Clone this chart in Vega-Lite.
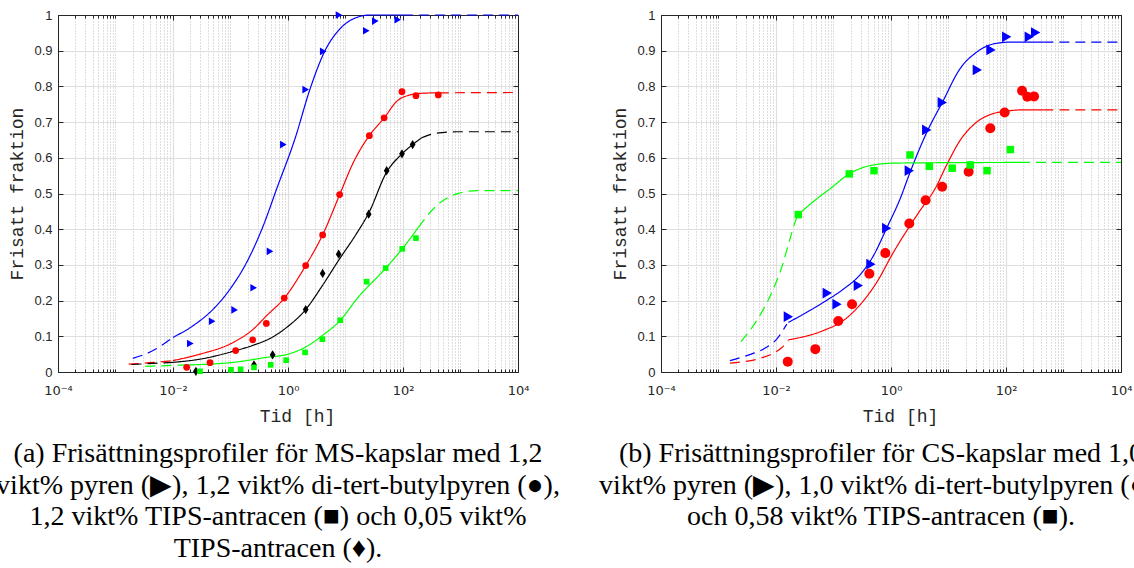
{
  "$schema": "https://vega.github.io/schema/vega-lite/v6.json",
  "background": "white",
  "padding": {"left": -4, "top": 9, "right": -11, "bottom": 0},
  "autosize": {"type": "pad"},
  "spacing": 143,
  "bounds": "flush",
  "resolve": {"scale": {"size": "independent"}},
  "config": {
    "view": {"stroke": null},
    "axis": {
      "labelFont": "Liberation Sans", "labelFontSize": 13, "labelColor": "#262626",
      "tickColor": "#262626", "domainColor": "#262626", "domainWidth": 1, "tickWidth": 1,
      "titleFont": "Liberation Mono", "titleFontSize": 18, "titleFontWeight": "normal", "titleColor": "#262626",
      "gridColor": "#dfdfdf", "gridWidth": 1.2
    }
  },
  "datasets": {
    "aLines": [
      {"s":"pyren","part":"pa1","seg":"dashed","t":0.002,"f":0.038},
      {"s":"pyren","part":"pa1","seg":"dashed","t":0.0045,"f":0.06},
      {"s":"pyren","part":"pa1","seg":"dashed","t":0.01,"f":0.097},
      {"s":"pyren","part":"pa2","seg":"solid","t":0.01,"f":0.097},
      {"s":"pyren","part":"pa2","seg":"solid","t":0.0225,"f":0.13},
      {"s":"pyren","part":"pa2","seg":"solid","t":0.05,"f":0.176},
      {"s":"pyren","part":"pa2","seg":"solid","t":0.098,"f":0.232},
      {"s":"pyren","part":"pa2","seg":"solid","t":0.191,"f":0.307},
      {"s":"pyren","part":"pa2","seg":"solid","t":0.372,"f":0.41},
      {"s":"pyren","part":"pa2","seg":"solid","t":0.635,"f":0.513},
      {"s":"pyren","part":"pa2","seg":"solid","t":1.32,"f":0.653},
      {"s":"pyren","part":"pa2","seg":"solid","t":2.42,"f":0.793},
      {"s":"pyren","part":"pa2","seg":"solid","t":4.4,"f":0.9},
      {"s":"pyren","part":"pa2","seg":"solid","t":8,"f":0.961},
      {"s":"pyren","part":"pa2","seg":"solid","t":15.6,"f":0.993},
      {"s":"pyren","part":"pa2","seg":"solid","t":27,"f":1},
      {"s":"pyren","part":"pa2","seg":"solid","t":100,"f":1},
      {"s":"pyren","part":"pa3","seg":"dashed","t":100,"f":1},
      {"s":"pyren","part":"pa3","seg":"dashed","t":10000,"f":1},
      {"s":"dtbp","part":"ra1","seg":"dashed","t":0.0017,"f":0.022},
      {"s":"dtbp","part":"ra1","seg":"dashed","t":0.004,"f":0.026},
      {"s":"dtbp","part":"ra1","seg":"dashed","t":0.01,"f":0.032},
      {"s":"dtbp","part":"ra2","seg":"solid","t":0.01,"f":0.032},
      {"s":"dtbp","part":"ra2","seg":"solid","t":0.0295,"f":0.05},
      {"s":"dtbp","part":"ra2","seg":"solid","t":0.112,"f":0.083},
      {"s":"dtbp","part":"ra2","seg":"solid","t":0.249,"f":0.12},
      {"s":"dtbp","part":"ra2","seg":"solid","t":0.426,"f":0.158},
      {"s":"dtbp","part":"ra2","seg":"solid","t":0.863,"f":0.207},
      {"s":"dtbp","part":"ra2","seg":"solid","t":2.03,"f":0.298},
      {"s":"dtbp","part":"ra2","seg":"solid","t":4,"f":0.384},
      {"s":"dtbp","part":"ra2","seg":"solid","t":7.93,"f":0.497},
      {"s":"dtbp","part":"ra2","seg":"solid","t":13.7,"f":0.587},
      {"s":"dtbp","part":"ra2","seg":"solid","t":25.9,"f":0.662},
      {"s":"dtbp","part":"ra2","seg":"solid","t":47.3,"f":0.712},
      {"s":"dtbp","part":"ra2","seg":"solid","t":77.6,"f":0.758},
      {"s":"dtbp","part":"ra2","seg":"solid","t":132,"f":0.776},
      {"s":"dtbp","part":"ra2","seg":"solid","t":225,"f":0.781},
      {"s":"dtbp","part":"ra2","seg":"solid","t":420,"f":0.782},
      {"s":"dtbp","part":"ra3","seg":"dashed","t":420,"f":0.782},
      {"s":"dtbp","part":"ra3","seg":"dashed","t":10000,"f":0.783},
      {"s":"tips005","part":"ka1","seg":"dashed","t":0.0019,"f":0.021},
      {"s":"tips005","part":"ka1","seg":"dashed","t":0.01,"f":0.027},
      {"s":"tips005","part":"ka2","seg":"solid","t":0.01,"f":0.027},
      {"s":"tips005","part":"ka2","seg":"solid","t":0.0295,"f":0.036},
      {"s":"tips005","part":"ka2","seg":"solid","t":0.112,"f":0.058},
      {"s":"tips005","part":"ka2","seg":"solid","t":0.249,"f":0.075},
      {"s":"tips005","part":"ka2","seg":"solid","t":0.486,"f":0.094},
      {"s":"tips005","part":"ka2","seg":"solid","t":0.95,"f":0.125},
      {"s":"tips005","part":"ka2","seg":"solid","t":2.03,"f":0.175},
      {"s":"tips005","part":"ka2","seg":"solid","t":4,"f":0.243},
      {"s":"tips005","part":"ka2","seg":"solid","t":7.6,"f":0.313},
      {"s":"tips005","part":"ka2","seg":"solid","t":15.6,"f":0.388},
      {"s":"tips005","part":"ka2","seg":"solid","t":25.3,"f":0.445},
      {"s":"tips005","part":"ka2","seg":"solid","t":52,"f":0.56},
      {"s":"tips005","part":"ka2","seg":"solid","t":96,"f":0.611},
      {"s":"tips005","part":"ka2","seg":"solid","t":147,"f":0.637},
      {"s":"tips005","part":"ka2","seg":"solid","t":211,"f":0.656},
      {"s":"tips005","part":"ka3","seg":"dashed","t":211,"f":0.656},
      {"s":"tips005","part":"ka3","seg":"dashed","t":385,"f":0.669},
      {"s":"tips005","part":"ka3","seg":"dashed","t":860,"f":0.673},
      {"s":"tips005","part":"ka3","seg":"dashed","t":10000,"f":0.673},
      {"s":"tips12","part":"ga1","seg":"dashed","t":0.0033,"f":0.016},
      {"s":"tips12","part":"ga1","seg":"dashed","t":0.0126,"f":0.019},
      {"s":"tips12","part":"ga2","seg":"solid","t":0.0126,"f":0.019},
      {"s":"tips12","part":"ga2","seg":"solid","t":0.112,"f":0.027},
      {"s":"tips12","part":"ga2","seg":"solid","t":0.426,"f":0.041},
      {"s":"tips12","part":"ga2","seg":"solid","t":0.95,"f":0.049},
      {"s":"tips12","part":"ga2","seg":"solid","t":1.98,"f":0.069},
      {"s":"tips12","part":"ga2","seg":"solid","t":3.95,"f":0.102},
      {"s":"tips12","part":"ga2","seg":"solid","t":8.13,"f":0.145},
      {"s":"tips12","part":"ga2","seg":"solid","t":15.6,"f":0.204},
      {"s":"tips12","part":"ga2","seg":"solid","t":50,"f":0.291},
      {"s":"tips12","part":"ga2","seg":"solid","t":97,"f":0.345},
      {"s":"tips12","part":"ga2","seg":"solid","t":185,"f":0.405},
      {"s":"tips12","part":"ga3","seg":"dashed","t":185,"f":0.405},
      {"s":"tips12","part":"ga3","seg":"dashed","t":385,"f":0.466},
      {"s":"tips12","part":"ga3","seg":"dashed","t":860,"f":0.499},
      {"s":"tips12","part":"ga3","seg":"dashed","t":1914,"f":0.508},
      {"s":"tips12","part":"ga3","seg":"dashed","t":10000,"f":0.508}
    ],
    "aPts": [
      {"s":"pyren","t":0.02,"f":0.08},
      {"s":"pyren","t":0.048,"f":0.142},
      {"s":"pyren","t":0.118,"f":0.174},
      {"s":"pyren","t":0.253,"f":0.236},
      {"s":"pyren","t":0.486,"f":0.338},
      {"s":"pyren","t":0.83,"f":0.637},
      {"s":"pyren","t":2.03,"f":0.791},
      {"s":"pyren","t":4.1,"f":0.898},
      {"s":"pyren","t":7.7,"f":1.0},
      {"s":"pyren","t":23,"f":0.956},
      {"s":"pyren","t":33,"f":0.983},
      {"s":"pyren","t":81,"f":0.987},
      {"s":"dtbp","t":0.0173,"f":0.013},
      {"s":"dtbp","t":0.044,"f":0.026},
      {"s":"dtbp","t":0.123,"f":0.06},
      {"s":"dtbp","t":0.243,"f":0.09},
      {"s":"dtbp","t":0.42,"f":0.136},
      {"s":"dtbp","t":0.86,"f":0.207},
      {"s":"dtbp","t":2.03,"f":0.298},
      {"s":"dtbp","t":4.0,"f":0.384},
      {"s":"dtbp","t":7.9,"f":0.497},
      {"s":"dtbp","t":26,"f":0.662},
      {"s":"dtbp","t":47,"f":0.712},
      {"s":"dtbp","t":96,"f":0.785},
      {"s":"dtbp","t":168,"f":0.774},
      {"s":"dtbp","t":411,"f":0.776},
      {"s":"tips005","t":0.025,"f":0.002},
      {"s":"tips005","t":0.256,"f":0.02},
      {"s":"tips005","t":0.54,"f":0.048},
      {"s":"tips005","t":2.03,"f":0.175},
      {"s":"tips005","t":4.0,"f":0.276},
      {"s":"tips005","t":7.6,"f":0.33},
      {"s":"tips005","t":25.3,"f":0.442},
      {"s":"tips005","t":52,"f":0.564},
      {"s":"tips005","t":96,"f":0.611},
      {"s":"tips005","t":147,"f":0.637},
      {"s":"tips12","t":0.0295,"f":0.002},
      {"s":"tips12","t":0.102,"f":0.006},
      {"s":"tips12","t":0.15,"f":0.0075},
      {"s":"tips12","t":0.256,"f":0.013},
      {"s":"tips12","t":0.5,"f":0.02},
      {"s":"tips12","t":0.93,"f":0.033},
      {"s":"tips12","t":1.98,"f":0.055},
      {"s":"tips12","t":3.96,"f":0.092},
      {"s":"tips12","t":8.1,"f":0.145},
      {"s":"tips12","t":23.3,"f":0.253},
      {"s":"tips12","t":50,"f":0.291},
      {"s":"tips12","t":97,"f":0.345},
      {"s":"tips12","t":168,"f":0.375}
    ],
    "bLines": [
      {"s":"pyren","part":"pb1","seg":"dashed","t":0.00158,"f":0.032},
      {"s":"pyren","part":"pb1","seg":"dashed","t":0.0031,"f":0.046},
      {"s":"pyren","part":"pb1","seg":"dashed","t":0.006,"f":0.064},
      {"s":"pyren","part":"pb1","seg":"dashed","t":0.0103,"f":0.092},
      {"s":"pyren","part":"pb1","seg":"dashed","t":0.0154,"f":0.134},
      {"s":"pyren","part":"pb2","seg":"solid","t":0.0164,"f":0.139},
      {"s":"pyren","part":"pb2","seg":"solid","t":0.0342,"f":0.167},
      {"s":"pyren","part":"pb2","seg":"solid","t":0.0665,"f":0.195},
      {"s":"pyren","part":"pb2","seg":"solid","t":0.148,"f":0.232},
      {"s":"pyren","part":"pb2","seg":"solid","t":0.289,"f":0.272},
      {"s":"pyren","part":"pb2","seg":"solid","t":0.5,"f":0.327},
      {"s":"pyren","part":"pb2","seg":"solid","t":0.841,"f":0.403},
      {"s":"pyren","part":"pb2","seg":"solid","t":1.44,"f":0.485},
      {"s":"pyren","part":"pb2","seg":"solid","t":2.14,"f":0.559},
      {"s":"pyren","part":"pb2","seg":"solid","t":4.18,"f":0.671},
      {"s":"pyren","part":"pb2","seg":"solid","t":7.8,"f":0.755},
      {"s":"pyren","part":"pb2","seg":"solid","t":15.8,"f":0.849},
      {"s":"pyren","part":"pb2","seg":"solid","t":30.9,"f":0.896},
      {"s":"pyren","part":"pb2","seg":"solid","t":60.3,"f":0.919},
      {"s":"pyren","part":"pb2","seg":"solid","t":117,"f":0.924},
      {"s":"pyren","part":"pb2","seg":"solid","t":446,"f":0.924},
      {"s":"pyren","part":"pb3","seg":"dashed","t":446,"f":0.924},
      {"s":"pyren","part":"pb3","seg":"dashed","t":10000,"f":0.924},
      {"s":"dtbp","part":"rb1","seg":"dashed","t":0.00158,"f":0.025},
      {"s":"dtbp","part":"rb1","seg":"dashed","t":0.006,"f":0.041},
      {"s":"dtbp","part":"rb1","seg":"dashed","t":0.0125,"f":0.068},
      {"s":"dtbp","part":"rb1","seg":"dashed","t":0.0164,"f":0.088},
      {"s":"dtbp","part":"rb2","seg":"solid","t":0.0164,"f":0.09},
      {"s":"dtbp","part":"rb2","seg":"solid","t":0.0665,"f":0.116},
      {"s":"dtbp","part":"rb2","seg":"solid","t":0.148,"f":0.144},
      {"s":"dtbp","part":"rb2","seg":"solid","t":0.289,"f":0.188},
      {"s":"dtbp","part":"rb2","seg":"solid","t":0.564,"f":0.251},
      {"s":"dtbp","part":"rb2","seg":"solid","t":1.1,"f":0.335},
      {"s":"dtbp","part":"rb2","seg":"solid","t":3.19,"f":0.452},
      {"s":"dtbp","part":"rb2","seg":"solid","t":5.82,"f":0.513},
      {"s":"dtbp","part":"rb2","seg":"solid","t":9.29,"f":0.58},
      {"s":"dtbp","part":"rb2","seg":"solid","t":15.8,"f":0.648},
      {"s":"dtbp","part":"rb2","seg":"solid","t":30.9,"f":0.7},
      {"s":"dtbp","part":"rb2","seg":"solid","t":60.3,"f":0.724},
      {"s":"dtbp","part":"rb2","seg":"solid","t":94.8,"f":0.73},
      {"s":"dtbp","part":"rb2","seg":"solid","t":175,"f":0.734},
      {"s":"dtbp","part":"rb2","seg":"solid","t":446,"f":0.734},
      {"s":"dtbp","part":"rb3","seg":"dashed","t":446,"f":0.734},
      {"s":"dtbp","part":"rb3","seg":"dashed","t":10000,"f":0.734},
      {"s":"tips058","part":"gb1","seg":"dashed","t":0.00246,"f":0.085},
      {"s":"tips058","part":"gb1","seg":"dashed","t":0.00461,"f":0.144},
      {"s":"tips058","part":"gb1","seg":"dashed","t":0.00897,"f":0.232},
      {"s":"tips058","part":"gb1","seg":"dashed","t":0.0134,"f":0.307},
      {"s":"tips058","part":"gb1","seg":"dashed","t":0.0175,"f":0.373},
      {"s":"tips058","part":"gb1","seg":"dashed","t":0.0214,"f":0.419},
      {"s":"tips058","part":"gb1","seg":"dashed","t":0.0244,"f":0.441},
      {"s":"tips058","part":"gb2","seg":"solid","t":0.0244,"f":0.441},
      {"s":"tips058","part":"gb2","seg":"solid","t":0.051,"f":0.485},
      {"s":"tips058","part":"gb2","seg":"solid","t":0.0869,"f":0.513},
      {"s":"tips058","part":"gb2","seg":"solid","t":0.188,"f":0.555},
      {"s":"tips058","part":"gb2","seg":"solid","t":0.431,"f":0.578},
      {"s":"tips058","part":"gb2","seg":"solid","t":1.1,"f":0.585},
      {"s":"tips058","part":"gb2","seg":"solid","t":4.17,"f":0.586},
      {"s":"tips058","part":"gb2","seg":"solid","t":175,"f":0.587},
      {"s":"tips058","part":"gb3","seg":"dashed","t":175,"f":0.587},
      {"s":"tips058","part":"gb3","seg":"dashed","t":10000,"f":0.587}
    ],
    "bPts": [
      {"s":"pyren","t":0.0164,"f":0.155},
      {"s":"pyren","t":0.078,"f":0.221},
      {"s":"pyren","t":0.115,"f":0.19},
      {"s":"pyren","t":0.27,"f":0.242},
      {"s":"pyren","t":0.447,"f":0.302},
      {"s":"pyren","t":0.841,"f":0.403},
      {"s":"pyren","t":2.08,"f":0.564},
      {"s":"pyren","t":4.18,"f":0.678},
      {"s":"pyren","t":7.8,"f":0.755},
      {"s":"pyren","t":31.7,"f":0.846},
      {"s":"pyren","t":54.8,"f":0.902},
      {"s":"pyren","t":102.8,"f":0.939},
      {"s":"pyren","t":254,"f":0.939},
      {"s":"pyren","t":328,"f":0.951},
      {"s":"dtbp","t":0.016,"f":0.029},
      {"s":"dtbp","t":0.0483,"f":0.064},
      {"s":"dtbp","t":0.121,"f":0.143},
      {"s":"dtbp","t":0.21,"f":0.19},
      {"s":"dtbp","t":0.42,"f":0.275},
      {"s":"dtbp","t":0.796,"f":0.333},
      {"s":"dtbp","t":2.08,"f":0.416},
      {"s":"dtbp","t":4.0,"f":0.481},
      {"s":"dtbp","t":7.76,"f":0.519},
      {"s":"dtbp","t":22.4,"f":0.561},
      {"s":"dtbp","t":53.3,"f":0.683},
      {"s":"dtbp","t":94.8,"f":0.727},
      {"s":"dtbp","t":190,"f":0.788},
      {"s":"dtbp","t":235,"f":0.771},
      {"s":"dtbp","t":307,"f":0.772},
      {"s":"tips058","t":0.0244,"f":0.441},
      {"s":"tips058","t":0.188,"f":0.555},
      {"s":"tips058","t":0.506,"f":0.564},
      {"s":"tips058","t":2.14,"f":0.608},
      {"s":"tips058","t":4.63,"f":0.576},
      {"s":"tips058","t":11.6,"f":0.571},
      {"s":"tips058","t":23.9,"f":0.58},
      {"s":"tips058","t":46.8,"f":0.564},
      {"s":"tips058","t":119,"f":0.623}
    ]
  },
  "hconcat": [
    {
      "width": 460, "height": 357,
      "title": {
        "text": ["(a) Frisättningsprofiler för MS-kapslar med 1,2", "vikt% pyren (▶), 1,2 vikt% di-tert-butylpyren (●),", "1,2 vikt% TIPS-antracen (■) och 0,05 vikt%", "TIPS-antracen (♦)."],
        "orient": "bottom", "anchor": "middle", "frame": "group", "dx": -10, "offset": 15,
        "font": "Liberation Serif", "fontSize": 28, "fontWeight": "normal", "lineHeight": 31.7, "color": "black"
      },
      "resolve": {"axis": {"x": "independent", "y": "independent"}},
      "layer": [
        {
          "data": {"name": "aLines"},
          "mark": {"type": "line", "strokeWidth": 1.2, "interpolate": "monotone"},
          "encoding": {
            "x": {"field": "t", "type": "quantitative", "scale": {"type": "log", "domain": [0.0001, 10000], "nice": false},
              "axis": {"orient": "bottom", "values": [0.0001, 0.01, 1, 100, 10000],
                "labelExpr": "datum.value < 0.001 ? '10⁻⁴' : datum.value < 0.1 ? '10⁻²' : datum.value < 10 ? '10⁰' : datum.value < 1000 ? '10²' : '10⁴'",
                "labelFont": "DejaVu Sans", "labelFontSize": 13,
                "labelFlush": false, "labelOverlap": false, "labelPadding": 17, "tickSize": -5, "grid": true,
                "title": "Tid [h]", "titlePadding": 10, "titleX": 239}},
            "y": {"field": "f", "type": "quantitative", "scale": {"domain": [0, 1], "nice": false},
              "axis": {"orient": "left", "values": [0, 0.1, 0.2, 0.3, 0.4, 0.5, 0.6, 0.7, 0.8, 0.9, 1], "format": "~g",
                "labelPadding": 11, "tickSize": -5, "grid": true, "title": "Frisatt fraktion", "titlePadding": 7}},
            "color": {"field": "s", "type": "nominal", "scale": {"domain": ["pyren", "dtbp", "tips12", "tips005", "tips058"], "range": ["#0000ff", "#ff0000", "#00ff00", "#000000", "#00ff00"]}, "legend": null},
            "strokeDash": {"field": "seg", "type": "nominal", "scale": {"domain": ["solid", "dashed"], "range": [[1, 0], [10, 6]]}, "legend": null},
            "detail": {"field": "part"}
          }
        },
        {
          "data": {"name": "aPts"},
          "mark": {"type": "point", "filled": true, "opacity": 1, "strokeWidth": 0},
          "encoding": {
            "x": {"field": "t", "type": "quantitative", "scale": {"type": "log", "domain": [0.0001, 10000], "nice": false},
              "axis": {"orient": "top", "values": [0.0001, 0.01, 1, 100, 10000], "labels": false, "title": null, "tickSize": -5, "grid": false}},
            "y": {"field": "f", "type": "quantitative", "scale": {"domain": [0, 1], "nice": false},
              "axis": {"orient": "right", "values": [0, 0.1, 0.2, 0.3, 0.4, 0.5, 0.6, 0.7, 0.8, 0.9, 1], "labels": false, "title": null, "tickSize": -5, "grid": false}},
            "color": {"field": "s", "type": "nominal", "scale": {"domain": ["pyren", "dtbp", "tips12", "tips005", "tips058"], "range": ["#0000ff", "#ff0000", "#00ff00", "#000000", "#00ff00"]}, "legend": null},
            "shape": {"field": "s", "type": "nominal", "scale": {"domain": ["pyren", "dtbp", "tips12", "tips005", "tips058"], "range": ["triangle-right", "circle", "square", "M0,-1L0.62,0L0,1L-0.62,0Z", "square"]}, "legend": null},
            "size": {"field": "s", "type": "nominal", "scale": {"type": "ordinal", "domain": ["pyren", "dtbp", "tips12", "tips005", "tips058"], "range": [58, 46, 32, 85, 32]}, "legend": null}
          }
        },
        {
          "data": {"name": "aPts"},
          "mark": {"type": "point", "opacity": 0},
          "encoding": {
            "x": {"field": "t", "type": "quantitative", "scale": {"type": "log", "domain": [0.0001, 10000], "nice": false},
              "axis": {"orient": "bottom", "values": [0.0002,0.0003,0.0004,0.0005,0.0006,0.0007,0.0008,0.0009,0.001,0.002,0.003,0.004,0.005,0.006,0.007,0.008,0.009,0.02,0.03,0.04,0.05,0.06,0.07,0.08,0.09,0.1,0.2,0.3,0.4,0.5,0.6,0.7,0.8,0.9,2,3,4,5,6,7,8,9,10,20,30,40,50,60,70,80,90,200,300,400,500,600,700,800,900,1000,2000,3000,4000,5000,6000,7000,8000,9000],
                "labels": false, "title": null, "domain": false, "tickSize": -3, "grid": true, "gridDash": [1, 2], "gridColor": "#bcbcbc", "gridWidth": 1}},
            "y": {"field": "f", "type": "quantitative", "scale": {"domain": [0, 1], "nice": false}, "axis": null}
          }
        },
        {
          "data": {"name": "aPts"},
          "mark": {"type": "point", "opacity": 0},
          "encoding": {
            "x": {"field": "t", "type": "quantitative", "scale": {"type": "log", "domain": [0.0001, 10000], "nice": false},
              "axis": {"orient": "top", "values": [0.0002,0.0003,0.0004,0.0005,0.0006,0.0007,0.0008,0.0009,0.001,0.002,0.003,0.004,0.005,0.006,0.007,0.008,0.009,0.02,0.03,0.04,0.05,0.06,0.07,0.08,0.09,0.1,0.2,0.3,0.4,0.5,0.6,0.7,0.8,0.9,2,3,4,5,6,7,8,9,10,20,30,40,50,60,70,80,90,200,300,400,500,600,700,800,900,1000,2000,3000,4000,5000,6000,7000,8000,9000],
                "labels": false, "title": null, "domain": false, "tickSize": -3, "grid": false}},
            "y": {"field": "f", "type": "quantitative", "scale": {"domain": [0, 1], "nice": false}, "axis": null}
          }
        }
      ]
    },
    {
      "width": 460, "height": 357,
      "title": {
        "text": ["(b) Frisättningsprofiler för CS-kapslar med 1,0", "vikt% pyren (▶), 1,0 vikt% di-tert-butylpyren (●),", "och 0,58 vikt% TIPS-antracen (■)."],
        "orient": "bottom", "anchor": "middle", "frame": "group", "dx": -10, "offset": 15,
        "font": "Liberation Serif", "fontSize": 28, "fontWeight": "normal", "lineHeight": 31.7, "color": "black"
      },
      "resolve": {"axis": {"x": "independent", "y": "independent"}},
      "layer": [
        {
          "data": {"name": "bLines"},
          "mark": {"type": "line", "strokeWidth": 1.2, "interpolate": "monotone"},
          "encoding": {
            "x": {"field": "t", "type": "quantitative", "scale": {"type": "log", "domain": [0.0001, 10000], "nice": false},
              "axis": {"orient": "bottom", "values": [0.0001, 0.01, 1, 100, 10000],
                "labelExpr": "datum.value < 0.001 ? '10⁻⁴' : datum.value < 0.1 ? '10⁻²' : datum.value < 10 ? '10⁰' : datum.value < 1000 ? '10²' : '10⁴'",
                "labelFont": "DejaVu Sans", "labelFontSize": 13,
                "labelFlush": false, "labelOverlap": false, "labelPadding": 17, "tickSize": -5, "grid": true,
                "title": "Tid [h]", "titlePadding": 10, "titleX": 239}},
            "y": {"field": "f", "type": "quantitative", "scale": {"domain": [0, 1], "nice": false},
              "axis": {"orient": "left", "values": [0, 0.1, 0.2, 0.3, 0.4, 0.5, 0.6, 0.7, 0.8, 0.9, 1], "format": "~g",
                "labelPadding": 11, "tickSize": -5, "grid": true, "title": "Frisatt fraktion", "titlePadding": 7}},
            "color": {"field": "s", "type": "nominal", "scale": {"domain": ["pyren", "dtbp", "tips12", "tips005", "tips058"], "range": ["#0000ff", "#ff0000", "#00ff00", "#000000", "#00ff00"]}, "legend": null},
            "strokeDash": {"field": "seg", "type": "nominal", "scale": {"domain": ["solid", "dashed"], "range": [[1, 0], [10, 6]]}, "legend": null},
            "detail": {"field": "part"}
          }
        },
        {
          "data": {"name": "bPts"},
          "mark": {"type": "point", "filled": true, "opacity": 1, "strokeWidth": 0},
          "encoding": {
            "x": {"field": "t", "type": "quantitative", "scale": {"type": "log", "domain": [0.0001, 10000], "nice": false},
              "axis": {"orient": "top", "values": [0.0001, 0.01, 1, 100, 10000], "labels": false, "title": null, "tickSize": -5, "grid": false}},
            "y": {"field": "f", "type": "quantitative", "scale": {"domain": [0, 1], "nice": false},
              "axis": {"orient": "right", "values": [0, 0.1, 0.2, 0.3, 0.4, 0.5, 0.6, 0.7, 0.8, 0.9, 1], "labels": false, "title": null, "tickSize": -5, "grid": false}},
            "color": {"field": "s", "type": "nominal", "scale": {"domain": ["pyren", "dtbp", "tips12", "tips005", "tips058"], "range": ["#0000ff", "#ff0000", "#00ff00", "#000000", "#00ff00"]}, "legend": null},
            "shape": {"field": "s", "type": "nominal", "scale": {"domain": ["pyren", "dtbp", "tips12", "tips005", "tips058"], "range": ["triangle-right", "circle", "square", "M0,-1L0.62,0L0,1L-0.62,0Z", "square"]}, "legend": null},
            "size": {"field": "s", "type": "nominal", "scale": {"type": "ordinal", "domain": ["pyren", "dtbp", "tips12", "tips005", "tips058"], "range": [115, 100, 56, 85, 56]}, "legend": null}
          }
        },
        {
          "data": {"name": "bPts"},
          "mark": {"type": "point", "opacity": 0},
          "encoding": {
            "x": {"field": "t", "type": "quantitative", "scale": {"type": "log", "domain": [0.0001, 10000], "nice": false},
              "axis": {"orient": "bottom", "values": [0.0002,0.0003,0.0004,0.0005,0.0006,0.0007,0.0008,0.0009,0.001,0.002,0.003,0.004,0.005,0.006,0.007,0.008,0.009,0.02,0.03,0.04,0.05,0.06,0.07,0.08,0.09,0.1,0.2,0.3,0.4,0.5,0.6,0.7,0.8,0.9,2,3,4,5,6,7,8,9,10,20,30,40,50,60,70,80,90,200,300,400,500,600,700,800,900,1000,2000,3000,4000,5000,6000,7000,8000,9000],
                "labels": false, "title": null, "domain": false, "tickSize": -3, "grid": true, "gridDash": [1, 2], "gridColor": "#bcbcbc", "gridWidth": 1}},
            "y": {"field": "f", "type": "quantitative", "scale": {"domain": [0, 1], "nice": false}, "axis": null}
          }
        },
        {
          "data": {"name": "bPts"},
          "mark": {"type": "point", "opacity": 0},
          "encoding": {
            "x": {"field": "t", "type": "quantitative", "scale": {"type": "log", "domain": [0.0001, 10000], "nice": false},
              "axis": {"orient": "top", "values": [0.0002,0.0003,0.0004,0.0005,0.0006,0.0007,0.0008,0.0009,0.001,0.002,0.003,0.004,0.005,0.006,0.007,0.008,0.009,0.02,0.03,0.04,0.05,0.06,0.07,0.08,0.09,0.1,0.2,0.3,0.4,0.5,0.6,0.7,0.8,0.9,2,3,4,5,6,7,8,9,10,20,30,40,50,60,70,80,90,200,300,400,500,600,700,800,900,1000,2000,3000,4000,5000,6000,7000,8000,9000],
                "labels": false, "title": null, "domain": false, "tickSize": -3, "grid": false}},
            "y": {"field": "f", "type": "quantitative", "scale": {"domain": [0, 1], "nice": false}, "axis": null}
          }
        }
      ]
    }
  ]
}
